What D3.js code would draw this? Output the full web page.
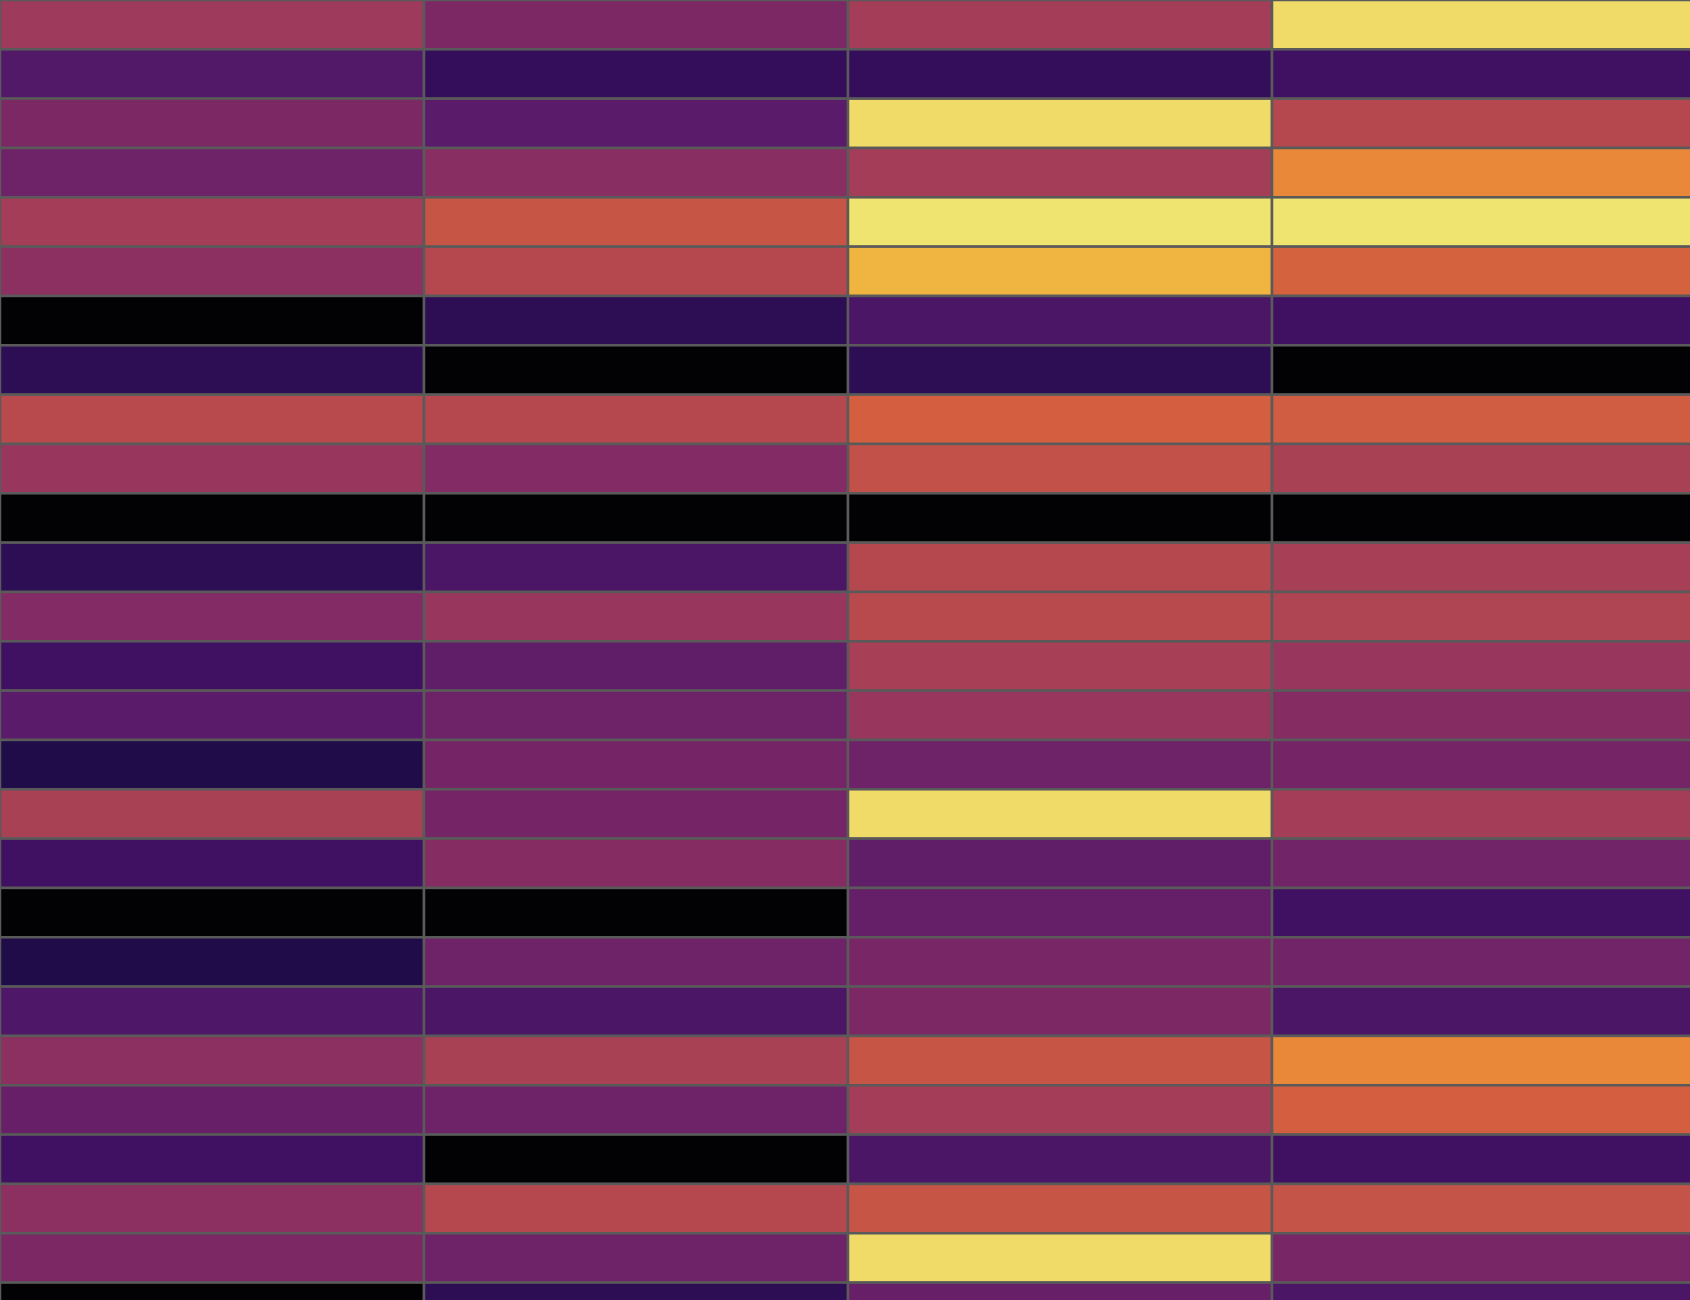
<!DOCTYPE html>
<html>
<head>
<meta charset="utf-8">
<script src="https://cdn.jsdelivr.net/npm/d3@7"></script>
<style>
  html, body { margin: 0; padding: 0; background: #ffffff; overflow: hidden; }
  svg { display: block; }
</style>
</head>
<body>
<svg id="chart"></svg>
<script>
// Data: one value per cell (colour position, 0 = darkest, 11 = lightest)
const columns = ["c1", "c2", "c3", "c4"];
const rows = d3.range(27).map(i => "r" + (i + 1));

const col1 = [5.2, 2.9, 4.1, 3.7, 5.4, 4.6, 0, 1.5, 6.1, 5.0, 0, 1.5, 4.3, 2.2, 3.1, 1.0, 5.6, 2.2, 0, 1.0, 2.7, 4.6, 3.5, 2.2, 4.6, 4.1, 0];
const col2 = [4.1, 1.8, 3.1, 4.5, 6.6, 6.0, 1.5, 0, 6.0, 4.3, 0, 2.6, 5.0, 3.3, 3.7, 3.9, 3.9, 4.4, 0, 3.7, 2.6, 5.6, 3.7, 0, 6.0, 3.7, 1.5];
const col3 = [5.4, 1.8, 10, 5.4, 11, 9, 2.6, 1.5, 7, 6.4, 0, 6.0, 6.1, 5.5, 5.0, 3.7, 10, 3.3, 3.4, 4.0, 4.1, 6.6, 5.4, 2.6, 6.6, 10, 3.5];
const col4 = [10, 2.2, 6.0, 8, 11, 7.1, 2.2, 0, 6.9, 5.6, 0, 5.5, 5.8, 5.0, 4.4, 3.9, 5.4, 3.8, 2.2, 3.8, 2.6, 8, 7, 2.2, 6.5, 4.0, 2.6];

// Palette stops (inferno-like)
const paletteStops = ["#020104", "#200c48", "#3a0f60", "#561a6a", "#782666", "#98365e",
                      "#b5484f", "#d35e40", "#e88838", "#f0b440", "#f0da68", "#f0e470"];

const W = 1690, H = 1300;
const svg = d3.select("#chart").attr("width", W).attr("height", H);

const cells = [];
[col1, col2, col3, col4].forEach((vals, ci) => {
  vals.forEach((v, ri) => cells.push({ col: columns[ci], row: rows[ri], value: v }));
});

// Grid extends a little past the window on the right and bottom
const x = d3.scaleBand().domain(columns).range([0, 1696]);
const y = d3.scaleBand().domain(rows).range([0, 27 * 49.33]);

const color = d3.scaleSequential(d3.piecewise(d3.interpolateRgb, paletteStops))
  .domain([0, paletteStops.length - 1]);

svg.append("g")
  .selectAll("rect")
  .data(cells)
  .join("rect")
  .attr("x", d => x(d.col))
  .attr("y", d => y(d.row))
  .attr("width", x.bandwidth())
  .attr("height", y.bandwidth())
  .attr("fill", d => color(d.value))
  .attr("stroke", "#5a5a5a")
  .attr("stroke-width", 2.5);
</script>
</body>
</html>
